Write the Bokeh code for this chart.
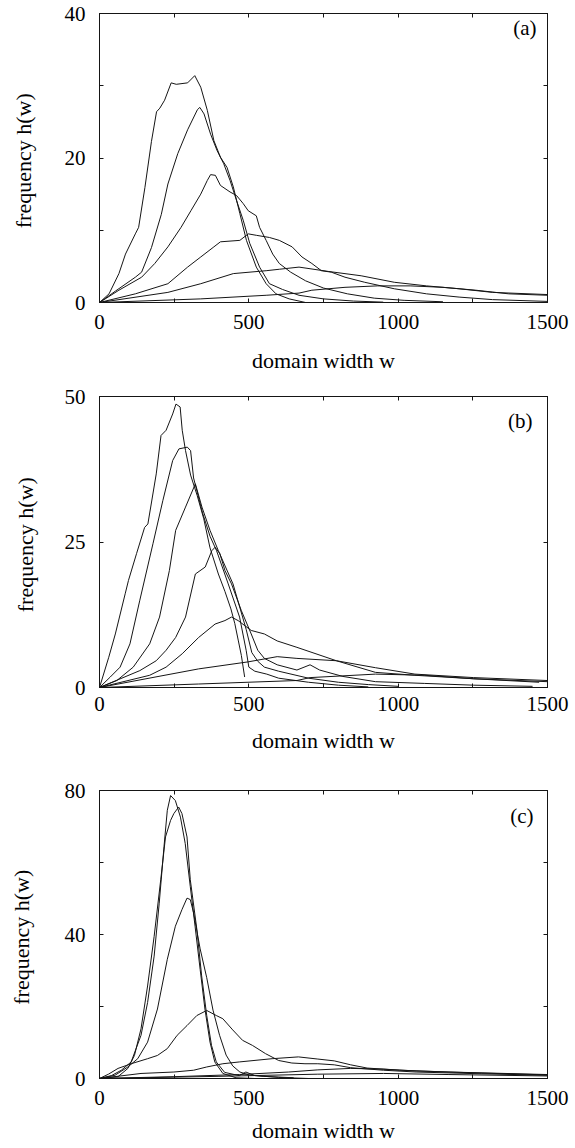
from bokeh.plotting import figure
from bokeh.models import LinearAxis, FixedTicker, Range1d, Label
from bokeh.layouts import column
from bokeh.embed import file_html
from bokeh.resources import INLINE

FONT = "'Liberation Serif', 'Times New Roman', serif"

# ---------------- data (domain width w, frequency h(w)) ----------------
x_major = [0, 500, 1000, 1500]
x_minor = [250, 750, 1250]

# panel (a)
a1_w = [0, 32, 65, 87, 120, 131, 152, 174, 191, 202, 218, 240, 257, 295, 319, 339, 361, 383, 405, 427, 448, 470, 492, 525, 558, 591, 635, 690]
a1_h = [0, 1.2, 4.0, 6.7, 9.5, 10.4, 15.9, 22.3, 26.4, 26.9, 28.0, 30.4, 30.2, 30.4, 31.4, 29.8, 26.6, 22.4, 20.1, 18.7, 16.0, 12.3, 8.6, 4.9, 2.6, 1.2, 0.5, 0.0]
a2_w = [0, 54, 120, 141, 174, 207, 229, 262, 295, 328, 336, 350, 372, 394, 416, 437, 459, 481, 503, 536, 569, 613, 668, 750, 850, 950]
a2_h = [0, 1.6, 3.5, 4.2, 7.6, 12.2, 16.4, 20.6, 23.9, 26.7, 27.0, 26.1, 23.3, 21.0, 19.2, 16.9, 14.1, 11.4, 8.2, 4.9, 2.6, 1.8, 1.0, 0.5, 0.2, 0.05]
a3_w = [0, 65, 141, 185, 229, 273, 306, 339, 361, 372, 388, 405, 437, 459, 481, 498, 525, 536, 558, 580, 602, 640, 690, 750, 830, 920, 1020, 1150]
a3_h = [0, 1.7, 3.5, 5.4, 7.7, 10.4, 12.7, 15.0, 16.9, 17.7, 17.6, 16.2, 15.3, 14.8, 13.7, 12.7, 12.0, 10.4, 8.6, 6.7, 5.4, 4.2, 3.0, 2.0, 1.2, 0.6, 0.3, 0.1]
a4_w = [0, 120, 229, 295, 339, 383, 405, 470, 498, 525, 569, 602, 645, 678, 711, 743, 776, 822, 888, 987, 1095, 1204, 1316, 1500]
a4_h = [0, 1.2, 2.6, 4.9, 6.3, 7.7, 8.4, 8.6, 9.5, 9.3, 9.0, 8.6, 7.7, 6.3, 5.4, 4.4, 4.2, 3.5, 2.8, 1.9, 1.2, 0.75, 0.4, 0.15]
a5_w = [0, 229, 339, 448, 558, 602, 668, 766, 876, 987, 1095, 1204, 1316, 1500]
a5_h = [0, 1.4, 2.6, 4.0, 4.4, 4.6, 4.9, 4.3, 3.7, 2.8, 2.3, 1.9, 1.4, 1.1]
a6_w = [0, 339, 558, 668, 711, 822, 931, 1040, 1150, 1260, 1370, 1500]
a6_h = [0, 0.5, 1.0, 1.3, 1.7, 2.1, 2.3, 2.3, 2.1, 1.7, 1.2, 1.0]

# panel (b)
b1_w = [0, 31, 53, 86, 97, 124, 151, 162, 190, 206, 223, 245, 256, 270, 277, 288, 305, 327, 349, 370, 398, 420, 440, 453, 465, 475, 486]
b1_h = [0, 5.2, 9.2, 16.1, 18.4, 23.0, 27.5, 28.1, 36.7, 43.3, 44.2, 47.0, 48.7, 48.2, 44.2, 40.7, 36.5, 33.0, 29.0, 24.0, 19.5, 16.5, 13.5, 11.0, 8.0, 5.5, 1.8]
b2_w = [0, 36, 69, 102, 135, 179, 212, 245, 266, 294, 305, 315, 345, 370, 392, 431, 469, 491, 500, 520, 560, 600, 700, 800, 900]
b2_h = [0, 1.8, 3.5, 7.5, 15.0, 24.7, 32.1, 39.0, 41.0, 41.3, 40.7, 36.0, 30.0, 26.0, 23.5, 17.8, 12.1, 6.4, 3.5, 2.8, 2.3, 1.6, 0.9, 0.4, 0.1]
b3_w = [0, 58, 113, 168, 201, 234, 255, 288, 321, 343, 370, 398, 447, 491, 510, 530, 552, 600, 700, 800, 900, 1000]
b3_h = [0, 1.2, 3.5, 7.5, 12.1, 20.1, 27.0, 31.0, 35.0, 31.0, 27.0, 23.5, 17.8, 10.0, 6.0, 4.5, 3.5, 2.8, 1.6, 0.9, 0.5, 0.2]
b4_w = [0, 135, 190, 223, 255, 288, 321, 354, 376, 387, 403, 420, 442, 475, 508, 530, 552, 595, 661, 705, 737, 815, 924, 1089, 1253, 1450]
b4_h = [0, 2.9, 4.6, 6.4, 8.6, 12.1, 19.5, 20.7, 23.5, 24.1, 23.0, 20.1, 17.8, 13.2, 9.2, 6.4, 5.0, 3.9, 3.0, 3.9, 3.0, 1.9, 1.0, 0.7, 0.4, 0.2]
b5_w = [0, 168, 223, 277, 332, 387, 420, 442, 464, 508, 552, 595, 661, 793, 924, 1056, 1253, 1472]
b5_h = [0, 2.1, 3.5, 5.8, 8.6, 10.9, 11.5, 12.1, 11.5, 9.8, 9.2, 8.0, 6.9, 4.6, 2.6, 2.1, 1.5, 0.9]
b6_w = [0, 332, 497, 595, 661, 793, 924, 1056, 1253, 1500]
b6_h = [0, 3.2, 4.4, 5.3, 5.0, 4.6, 3.4, 2.3, 1.7, 1.2]
b7_w = [0, 332, 661, 705, 815, 924, 1089, 1253, 1500]
b7_h = [0, 0.6, 1.2, 1.7, 2.0, 2.3, 2.1, 1.5, 1.0]

# panel (c)
c1_w = [0, 40, 73, 106, 139, 161, 183, 200, 216, 227, 238, 254, 271, 287, 304, 320, 337, 353, 370, 386, 413, 457, 520]
c1_h = [0, 0.8, 2.3, 4.6, 12.0, 21.1, 34.0, 48.7, 64.4, 74.5, 78.6, 77.2, 72.6, 65.3, 53.3, 42.3, 30.3, 19.3, 10.1, 4.6, 1.4, 0.2, 0.0]
c2_w = [0, 62, 95, 117, 139, 161, 183, 205, 221, 238, 249, 265, 276, 293, 304, 326, 342, 359, 375, 391, 419, 468, 490, 520, 600, 700]
c2_h = [0, 0.5, 2.8, 6.4, 13.8, 25.7, 39.5, 55.2, 67.1, 71.7, 73.6, 75.4, 73.6, 67.1, 55.2, 41.4, 28.5, 17.5, 9.2, 4.6, 1.7, 0.8, 1.8, 0.8, 0.3, 0.0]
c3_w = [0, 52, 95, 128, 161, 194, 227, 254, 276, 293, 304, 315, 337, 359, 380, 402, 424, 446, 470, 500, 550, 650]
c3_h = [0, 0.9, 3.2, 5.5, 10.1, 19.3, 33.1, 42.3, 46.9, 50.1, 49.7, 46.0, 36.0, 28.0, 19.0, 12.0, 6.5, 3.5, 1.8, 1.0, 0.6, 0.2]
c4_w = [0, 30, 62, 106, 161, 194, 227, 260, 293, 326, 359, 391, 413, 446, 479, 512, 556, 600, 644, 688, 731, 786, 841, 951, 1060, 1280, 1500]
c4_h = [0, 1.2, 2.8, 4.1, 5.5, 6.4, 8.3, 12.0, 14.7, 17.5, 18.9, 17.5, 16.6, 13.5, 10.6, 9.2, 6.9, 5.0, 4.3, 4.1, 4.1, 3.8, 3.0, 2.3, 1.8, 1.3, 0.9]
c5_w = [0, 139, 249, 315, 359, 413, 468, 578, 666, 731, 786, 841, 896, 1005, 1170, 1500]
c5_h = [0, 1.4, 1.8, 2.3, 3.2, 4.1, 4.6, 5.5, 6.0, 5.4, 4.9, 3.8, 2.9, 2.3, 1.8, 1.1]
c6_w = [0, 249, 468, 633, 731, 841, 951, 1060, 1280, 1500]
c6_h = [0, 0.5, 1.1, 1.8, 2.4, 2.8, 2.6, 2.1, 1.5, 1.0]
c7_w = [0, 400, 731, 951, 1170, 1500]
c7_h = [0, 0.6, 1.2, 1.4, 1.1, 0.7]

panel_a = dict(tag="(a)", ymax=40, y_major=[0, 20, 40], y_minor=[10, 30],
               curves=[(a1_w, a1_h), (a2_w, a2_h), (a3_w, a3_h), (a4_w, a4_h), (a5_w, a5_h), (a6_w, a6_h)])
panel_b = dict(tag="(b)", ymax=50, y_major=[0, 25, 50], y_minor=[],
               curves=[(b1_w, b1_h), (b2_w, b2_h), (b3_w, b3_h), (b4_w, b4_h), (b5_w, b5_h), (b6_w, b6_h), (b7_w, b7_h)])
panel_c = dict(tag="(c)", ymax=80, y_major=[0, 40, 80], y_minor=[20, 60],
               curves=[(c1_w, c1_h), (c2_w, c2_h), (c3_w, c3_h), (c4_w, c4_h), (c5_w, c5_h), (c6_w, c6_h), (c7_w, c7_h)])

INK = "#151515"


def style_axis(ax, show_labels):
    ax.axis_line_color = INK
    ax.axis_line_width = 1
    ax.major_tick_in = 4
    ax.major_tick_out = 0
    ax.minor_tick_in = 4
    ax.minor_tick_out = 0
    ax.major_tick_line_color = INK
    ax.minor_tick_line_color = INK
    ax.major_label_text_font = FONT
    if show_labels:
        ax.major_label_text_font_size = "21px"
        ax.major_label_text_color = "black"
    else:
        # mirror axis: ticks only, labels not drawn
        ax.major_label_text_font_size = "1px"
        ax.major_label_text_color = None
        ax.major_label_standoff = 0


def make_panel(spec, height, top, bottom, left, right, xt_sd, xl_sd, yt_sd, yl_sd, tag_dx, tag_dy):
    p = figure(width=575, height=height,
               x_range=Range1d(0, 1500), y_range=Range1d(0, spec["ymax"]),
               output_backend="svg", toolbar_location=None,
               min_border_top=top, min_border_bottom=bottom,
               min_border_left=left, min_border_right=right,
               x_axis_label="domain width w", y_axis_label="frequency  h(w)")
    p.grid.visible = False
    p.outline_line_color = INK
    p.outline_line_width = 1
    p.background_fill_color = "white"
    p.border_fill_color = "white"

    xt = FixedTicker(ticks=x_major, minor_ticks=x_minor)
    yt = FixedTicker(ticks=spec["y_major"], minor_ticks=spec["y_minor"])

    p.xaxis.ticker = xt
    p.yaxis.ticker = yt
    for ax in p.xaxis:
        style_axis(ax, True)
        ax.major_label_standoff = xt_sd
        ax.axis_label_standoff = xl_sd
    for ax in p.yaxis:
        style_axis(ax, True)
        ax.major_label_standoff = yt_sd
        ax.axis_label_standoff = yl_sd
    for ax in list(p.xaxis) + list(p.yaxis):
        ax.axis_label_text_font = FONT
        ax.axis_label_text_font_size = "22px"
        ax.axis_label_text_font_style = "normal"
        ax.axis_label_text_color = "black"

    top_ax = LinearAxis(ticker=xt)
    style_axis(top_ax, False)
    p.add_layout(top_ax, "above")
    right_ax = LinearAxis(ticker=yt)
    style_axis(right_ax, False)
    p.add_layout(right_ax, "right")

    for w, h in spec["curves"]:
        p.line(w, h, line_color=INK, line_width=1)

    p.add_layout(Label(x=1500, y=spec["ymax"], x_offset=tag_dx, y_offset=tag_dy,
                       text=spec["tag"], text_align="right", text_baseline="middle",
                       text_font=FONT, text_font_size="21px", text_color="black"))
    return p


pa = make_panel(panel_a, 375, 13, 73, 97, 22, 12, 16, 14, 26, -11, -14)
pb = make_panel(panel_b, 383, 21, 71, 99, 20, 9, 14, 14, 24, -15, -24)
pc = make_panel(panel_c, 390, 32, 70, 91, 28, 12, 10, 14, 28, -14, -25)

layout = column(pa, pb, pc, spacing=0)
open("out.html", "w").write(file_html(layout, INLINE))
